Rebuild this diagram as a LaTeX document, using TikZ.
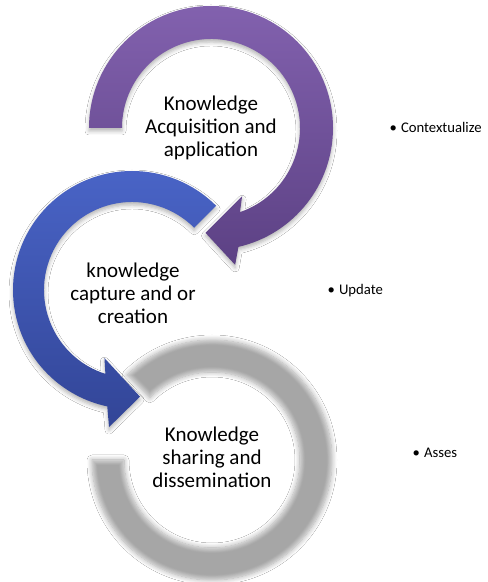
\documentclass[tikz,border=0pt]{standalone}
\usepackage{fontspec}
\setmainfont{Carlito}
\usetikzlibrary{shadows.blur}
\definecolor{purpT}{HTML}{8261AE}
\definecolor{purpB}{HTML}{5C4184}
\definecolor{blueT}{HTML}{4A65C8}
\definecolor{blueB}{HTML}{324597}
\begin{document}
\begin{tikzpicture}[x=1pt,y=1pt,
  maintext/.style={font=\fontsize{21}{23}\selectfont, align=center, text=black, inner sep=0pt},
  bullettext/.style={font=\fontsize{14.7}{17}\selectfont, anchor=base west, inner sep=0pt, text=black},
  dropshadow/.style={blur shadow={shadow xshift=0pt, shadow yshift=-3pt, shadow opacity=30, shadow blur radius=4pt}},
  softring/.style={blur shadow={shadow xshift=0pt, shadow yshift=0pt, shadow opacity=35, shadow blur radius=5pt, shadow blur steps=8}}]
\useasboundingbox (0,0) rectangle (488,582);
\fill[white] (0,0) rectangle (488,582);
% gray ring (blurred)
\begin{scope}[shift={(212,122)}]
\path[softring] (180:120) arc[start angle=180, end angle=495, radius=120]
  -- (495:88) arc[start angle=495, end angle=180, radius=88] -- cycle;
\end{scope}
% blue circular arrow
\begin{scope}[shift={(132,292)}]
\path[dropshadow, top color=blueT, bottom color=blueB]
  (45:119) arc[start angle=45, end angle=258, radius=119]
  -- (260.5:139) -- (274.3:107) -- (248:73.5) -- (252.4:88)
  arc[start angle=252.4, end angle=45, radius=88] -- cycle;
\end{scope}
% purple circular arrow
\begin{scope}[shift={(211,454)}]
\path[dropshadow, top color=purpT, bottom color=purpB]
  (180:122) arc[start angle=180, end angle=-77, radius=122]
  -- (-80:139) -- (-93:105) -- (-65.5:75) -- (-71:89)
  arc[start angle=-71, end angle=180, radius=89] -- cycle;
\end{scope}
% texts
\node[maintext] (acq) at (211,454) {Knowledge\\Acquisition and\\application};
\node[maintext] (cap) at (133,289) {knowledge\\capture and or\\creation};
\node[maintext] (sha) at (212,125) {Knowledge\\sharing and\\dissemination};
\node[bullettext] (ctx) at (389.5,449) {\textbullet\hspace{4pt}Contextualize};
\node[bullettext] (upd) at (327.5,287) {\textbullet\hspace{4pt}Update};
\node[bullettext] (ass) at (412.5,124) {\textbullet\hspace{4pt}Asses};
\end{tikzpicture}
\end{document}
